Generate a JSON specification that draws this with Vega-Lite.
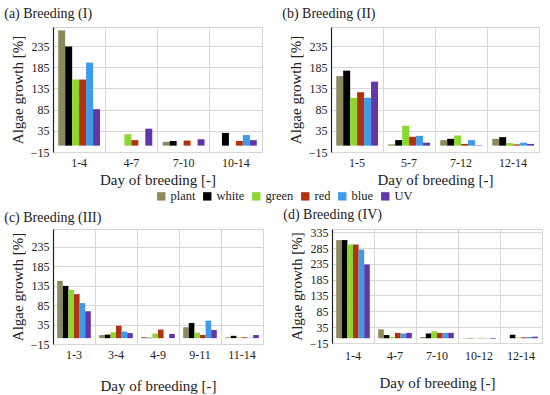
{
  "$schema": "https://vega.github.io/schema/vega-lite/v6.json",
  "padding": {"left": 3, "top": 6, "right": 5, "bottom": 0},
  "background": "white",
  "config": {
    "font": "Liberation Serif",
    "view": {"stroke": "#d4d4d4", "strokeWidth": 1},
    "axis": {"labelFont": "Liberation Serif", "titleFont": "Liberation Serif", "labelFontSize": 12, "titleFontSize": 15, "titleFontWeight": "normal", "labelColor": "#222", "titleColor": "#222", "ticks": false, "gridColor": "#d8d8d8"},
    "axisX": {"domain": false, "labelAngle": 0, "labelPadding": 5, "titlePadding": 4, "bandPosition": 0, "grid": true},
    "axisY": {"domainColor": "#222", "domainWidth": 1.2, "labelPadding": 4, "titlePadding": 5},
    "title": {"font": "Liberation Serif", "fontSize": 14, "fontWeight": "normal", "anchor": "start", "frame": "bounds", "color": "#222"},
    "legend": {"labelFont": "Liberation Serif", "labelFontSize": 12.5, "symbolType": "square", "symbolSize": 70, "symbolStrokeWidth": 0, "columnPadding": 5, "labelOffset": 3, "labelColor": "#222"},
    "concat": {"spacing": 18}
  },
  "datasets": {
    "a": [
      {"day": "1-4", "light": "plant", "growth": 272}, {"day": "1-4", "light": "white", "growth": 234}, {"day": "1-4", "light": "green", "growth": 156}, {"day": "1-4", "light": "red", "growth": 156}, {"day": "1-4", "light": "blue", "growth": 196}, {"day": "1-4", "light": "UV", "growth": 86},
      {"day": "4-7", "light": "plant", "growth": 0}, {"day": "4-7", "light": "white", "growth": 0}, {"day": "4-7", "light": "green", "growth": 27}, {"day": "4-7", "light": "red", "growth": 13}, {"day": "4-7", "light": "blue", "growth": 0}, {"day": "4-7", "light": "UV", "growth": 40},
      {"day": "7-10", "light": "plant", "growth": 9}, {"day": "7-10", "light": "white", "growth": 11}, {"day": "7-10", "light": "green", "growth": 0}, {"day": "7-10", "light": "red", "growth": 12}, {"day": "7-10", "light": "blue", "growth": 0}, {"day": "7-10", "light": "UV", "growth": 15},
      {"day": "10-14", "light": "plant", "growth": 0}, {"day": "10-14", "light": "white", "growth": 30}, {"day": "10-14", "light": "green", "growth": 0}, {"day": "10-14", "light": "red", "growth": 11}, {"day": "10-14", "light": "blue", "growth": 25}, {"day": "10-14", "light": "UV", "growth": 13}
    ],
    "b": [
      {"day": "1-5", "light": "plant", "growth": 164}, {"day": "1-5", "light": "white", "growth": 177}, {"day": "1-5", "light": "green", "growth": 113}, {"day": "1-5", "light": "red", "growth": 126}, {"day": "1-5", "light": "blue", "growth": 113}, {"day": "1-5", "light": "UV", "growth": 151},
      {"day": "5-7", "light": "plant", "growth": 3}, {"day": "5-7", "light": "white", "growth": 13}, {"day": "5-7", "light": "green", "growth": 47}, {"day": "5-7", "light": "red", "growth": 21}, {"day": "5-7", "light": "blue", "growth": 23}, {"day": "5-7", "light": "UV", "growth": 7},
      {"day": "7-12", "light": "plant", "growth": 13}, {"day": "7-12", "light": "white", "growth": 16}, {"day": "7-12", "light": "green", "growth": 24}, {"day": "7-12", "light": "red", "growth": 4}, {"day": "7-12", "light": "blue", "growth": 13}, {"day": "7-12", "light": "UV", "growth": 1},
      {"day": "12-14", "light": "plant", "growth": 16}, {"day": "12-14", "light": "white", "growth": 20}, {"day": "12-14", "light": "green", "growth": 6}, {"day": "12-14", "light": "red", "growth": 3}, {"day": "12-14", "light": "blue", "growth": 7}, {"day": "12-14", "light": "UV", "growth": 4}
    ],
    "c": [
      {"day": "1-3", "light": "plant", "growth": 147}, {"day": "1-3", "light": "white", "growth": 134}, {"day": "1-3", "light": "green", "growth": 124}, {"day": "1-3", "light": "red", "growth": 113}, {"day": "1-3", "light": "blue", "growth": 90}, {"day": "1-3", "light": "UV", "growth": 69},
      {"day": "3-4", "light": "plant", "growth": 8}, {"day": "3-4", "light": "white", "growth": 9}, {"day": "3-4", "light": "green", "growth": 15}, {"day": "3-4", "light": "red", "growth": 32}, {"day": "3-4", "light": "blue", "growth": 17}, {"day": "3-4", "light": "UV", "growth": 13},
      {"day": "4-9", "light": "plant", "growth": 3}, {"day": "4-9", "light": "white", "growth": 1}, {"day": "4-9", "light": "green", "growth": 12}, {"day": "4-9", "light": "red", "growth": 22}, {"day": "4-9", "light": "blue", "growth": 0}, {"day": "4-9", "light": "UV", "growth": 11},
      {"day": "9-11", "light": "plant", "growth": 28}, {"day": "9-11", "light": "white", "growth": 39}, {"day": "9-11", "light": "green", "growth": 14}, {"day": "9-11", "light": "red", "growth": 8}, {"day": "9-11", "light": "blue", "growth": 45}, {"day": "9-11", "light": "UV", "growth": 21},
      {"day": "11-14", "light": "plant", "growth": 2}, {"day": "11-14", "light": "white", "growth": 6}, {"day": "11-14", "light": "green", "growth": 2}, {"day": "11-14", "light": "red", "growth": 2}, {"day": "11-14", "light": "blue", "growth": 1}, {"day": "11-14", "light": "UV", "growth": 8}
    ],
    "d": [
      {"day": "1-4", "light": "plant", "growth": 310}, {"day": "1-4", "light": "white", "growth": 310}, {"day": "1-4", "light": "green", "growth": 296}, {"day": "1-4", "light": "red", "growth": 296}, {"day": "1-4", "light": "blue", "growth": 280}, {"day": "1-4", "light": "UV", "growth": 233},
      {"day": "4-7", "light": "plant", "growth": 28}, {"day": "4-7", "light": "white", "growth": 10}, {"day": "4-7", "light": "green", "growth": 4}, {"day": "4-7", "light": "red", "growth": 17}, {"day": "4-7", "light": "blue", "growth": 15}, {"day": "4-7", "light": "UV", "growth": 17},
      {"day": "7-10", "light": "plant", "growth": 4}, {"day": "7-10", "light": "white", "growth": 15}, {"day": "7-10", "light": "green", "growth": 22}, {"day": "7-10", "light": "red", "growth": 17}, {"day": "7-10", "light": "blue", "growth": 17}, {"day": "7-10", "light": "UV", "growth": 17},
      {"day": "10-12", "light": "plant", "growth": 1}, {"day": "10-12", "light": "white", "growth": 1}, {"day": "10-12", "light": "green", "growth": 1}, {"day": "10-12", "light": "red", "growth": 1}, {"day": "10-12", "light": "blue", "growth": 1}, {"day": "10-12", "light": "UV", "growth": -2},
      {"day": "12-14", "light": "plant", "growth": 0}, {"day": "12-14", "light": "white", "growth": 11}, {"day": "12-14", "light": "green", "growth": 2}, {"day": "12-14", "light": "red", "growth": 3}, {"day": "12-14", "light": "blue", "growth": 4}, {"day": "12-14", "light": "UV", "growth": 5}
    ]
  },
  "vconcat": [
    {
      "hconcat": [
        {
          "title": {"text": "(a) Breeding (I)", "dx": -6, "offset": 6},
          "width": 209, "height": 125,
          "data": {"name": "a"},
          "encoding": {
            "x": {"field": "day", "type": "nominal", "sort": ["1-4", "4-7", "7-10", "10-14"], "title": "Day of breeding [-]", "scale": {"paddingInner": 0, "paddingOuter": 0}},
            "y": {"field": "growth", "type": "quantitative", "title": "Algae growth [%]", "scale": {"domain": [-15, 280], "nice": false, "zero": false}, "axis": {"values": [-15, 35, 85, 135, 185, 235]}}
          },
          "layer": [
            {"mark": {"type": "bar", "y2": {"expr": "scale('y', 0)"}},
             "encoding": {
               "xOffset": {"field": "light", "type": "nominal", "sort": ["plant", "white", "green", "red", "blue", "UV"], "scale": {"paddingInner": 0, "paddingOuter": 0.75}},
               "color": {"field": "light", "type": "nominal", "title": null, "scale": {"domain": ["plant", "white", "green", "red", "blue", "UV"], "range": ["#8c8a5c", "#000000", "#8fd630", "#b0320f", "#3f9be9", "#6236a8"]}, "legend": {"orient": "none", "direction": "horizontal", "legendX": 102, "legendY": 163}}
             }},
            {"mark": {"type": "rule", "color": "#111", "strokeWidth": 1.5}, "encoding": {"y": {"datum": 0}}}
          ]
        },
        {
          "title": {"text": "(b) Breeding (II)", "dx": -6, "offset": 6},
          "width": 208, "height": 125,
          "data": {"name": "b"},
          "encoding": {
            "x": {"field": "day", "type": "nominal", "sort": ["1-5", "5-7", "7-12", "12-14"], "title": "Day of breeding [-]", "scale": {"paddingInner": 0, "paddingOuter": 0}},
            "y": {"field": "growth", "type": "quantitative", "title": "Algae growth [%]", "scale": {"domain": [-15, 280], "nice": false, "zero": false}, "axis": {"values": [-15, 35, 85, 135, 185, 235]}}
          },
          "layer": [
            {"mark": {"type": "bar", "y2": {"expr": "scale('y', 0)"}},
             "encoding": {
               "xOffset": {"field": "light", "type": "nominal", "sort": ["plant", "white", "green", "red", "blue", "UV"], "scale": {"paddingInner": 0, "paddingOuter": 0.75}},
               "color": {"field": "light", "type": "nominal", "title": null}
             }},
            {"mark": {"type": "rule", "color": "#111", "strokeWidth": 1.5}, "encoding": {"y": {"datum": 0}}}
          ]
        }
      ]
    },
    {
      "hconcat": [
        {
          "title": {"text": "(c) Breeding (III)", "dx": -6, "offset": 4},
          "width": 210, "height": 115,
          "data": {"name": "c"},
          "encoding": {
            "x": {"field": "day", "type": "nominal", "sort": ["1-3", "3-4", "4-9", "9-11", "11-14"], "title": "Day of breeding [-]", "axis": {"titlePadding": 18}, "scale": {"paddingInner": 0, "paddingOuter": 0}},
            "y": {"field": "growth", "type": "quantitative", "title": "Algae growth [%]", "scale": {"domain": [-15, 280], "nice": false, "zero": false}, "axis": {"values": [-15, 35, 85, 135, 185, 235]}}
          },
          "layer": [
            {"mark": {"type": "bar", "y2": {"expr": "scale('y', 0)"}},
             "encoding": {
               "xOffset": {"field": "light", "type": "nominal", "sort": ["plant", "white", "green", "red", "blue", "UV"], "scale": {"paddingInner": 0, "paddingOuter": 0.75}},
               "color": {"field": "light", "type": "nominal", "title": null}
             }},
            {"mark": {"type": "rule", "color": "#111", "strokeWidth": 1.5}, "encoding": {"y": {"datum": 0}}}
          ]
        },
        {
          "title": {"text": "(d) Breeding (IV)", "dx": -6, "offset": 4},
          "width": 210, "height": 114,
          "data": {"name": "d"},
          "encoding": {
            "x": {"field": "day", "type": "nominal", "sort": ["1-4", "4-7", "7-10", "10-12", "12-14"], "title": "Day of breeding [-]", "axis": {"titlePadding": 14, "labelPadding": 7}, "scale": {"paddingInner": 0, "paddingOuter": 0}},
            "y": {"field": "growth", "type": "quantitative", "title": "Algae growth [%]", "scale": {"domain": [-15, 345], "nice": false, "zero": false}, "axis": {"values": [-15, 35, 85, 135, 185, 235, 285, 335]}}
          },
          "layer": [
            {"mark": {"type": "bar", "y2": {"expr": "scale('y', 0)"}},
             "encoding": {
               "xOffset": {"field": "light", "type": "nominal", "sort": ["plant", "white", "green", "red", "blue", "UV"], "scale": {"paddingInner": 0, "paddingOuter": 0.75}},
               "color": {"field": "light", "type": "nominal", "title": null}
             }},
            {"mark": {"type": "rule", "color": "#111", "strokeWidth": 1.5}, "encoding": {"y": {"datum": 0}}}
          ]
        }
      ],
      "spacing": 18
    }
  ],
  "spacing": 19,
  "resolve": {"scale": {"y": "independent", "x": "independent", "xOffset": "independent"}}
}
